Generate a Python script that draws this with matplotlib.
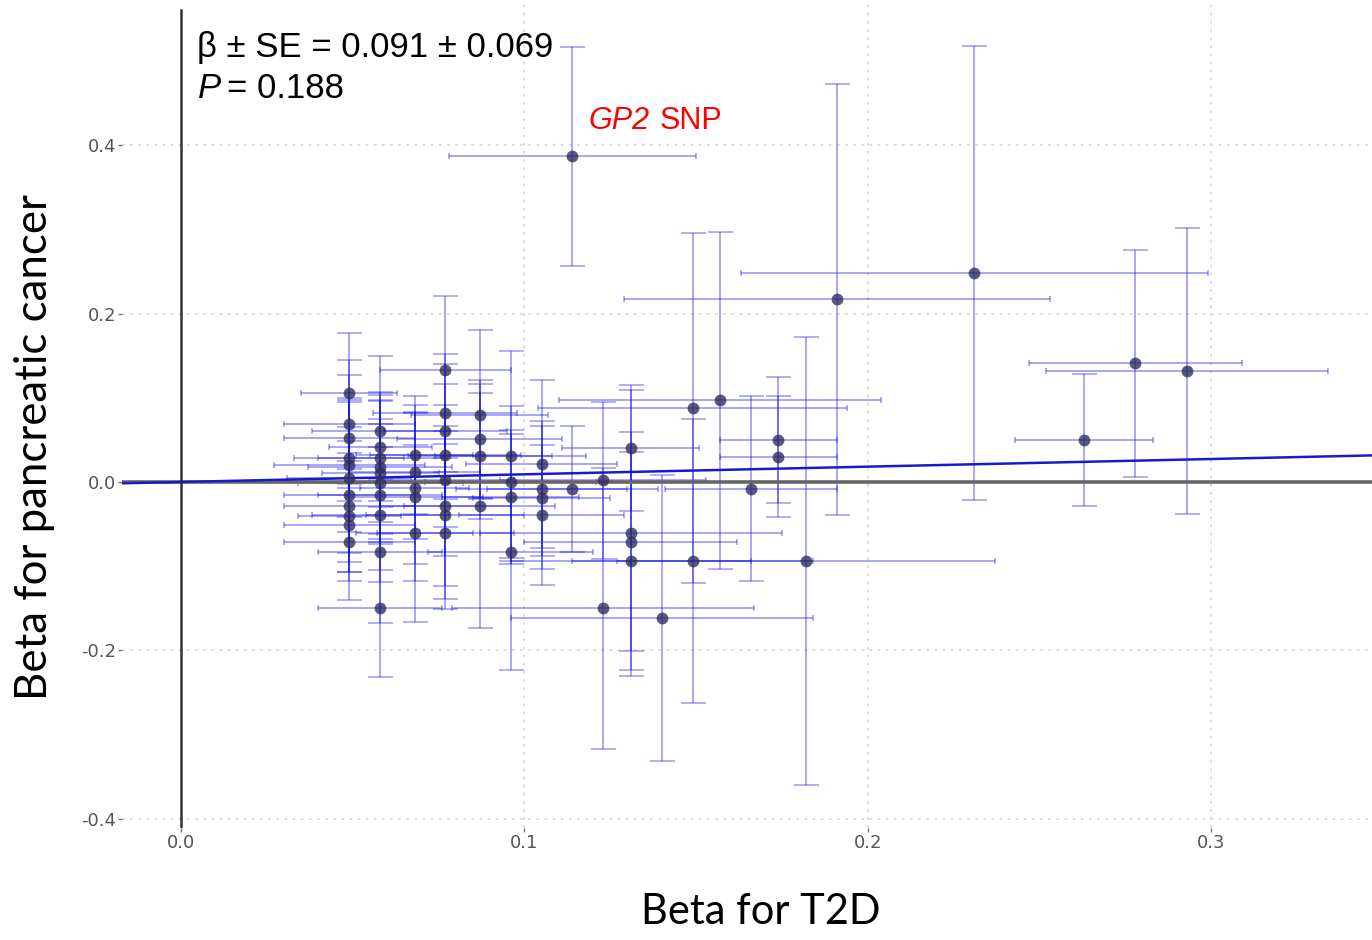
import numpy as np
import matplotlib
matplotlib.use("Agg")
import matplotlib.pyplot as plt

# per-SNP effects: T2D beta (x), pancreatic cancer beta (y), and CI half-widths
beta_t2d = [0.049] * 11 + [0.058] * 10 + [0.068] * 5 + [0.077] * 8 + [0.087] * 4 + [0.096] * 4 + [0.105] * 4 + [
    0.114, 0.114, 0.123, 0.123, 0.131, 0.131, 0.131, 0.131, 0.140, 0.149, 0.149, 0.157,
    0.166, 0.174, 0.174, 0.182, 0.191, 0.231, 0.263, 0.278, 0.293]
beta_pc = [0.106, 0.069, 0.052, 0.028, 0.020, 0.005, -0.015, -0.029, -0.041, -0.051, -0.071,
           0.060, 0.042, 0.028, 0.018, 0.011, -0.001, -0.015, -0.039, -0.083, -0.150,
           0.032, 0.012, -0.007, -0.018, -0.061,
           0.133, 0.082, 0.060, 0.032, 0.002, -0.029, -0.039, -0.061,
           0.080, 0.051, 0.031, -0.029,
           0.031, 0.000, -0.018, -0.083,
           0.021, -0.008, -0.019, -0.039,
           -0.008, 0.387, 0.002, -0.150, 0.040, -0.061, -0.071, -0.094, -0.162, 0.088, -0.094, 0.097,
           -0.008, 0.050, 0.030, -0.094, 0.217, 0.248, 0.050, 0.141, 0.132]
ci_pc = [0.071, 0.076, 0.075, 0.070, 0.080, 0.090, 0.080, 0.078, 0.066, 0.067, 0.069,
         0.090, 0.065, 0.075, 0.080, 0.085, 0.070, 0.090, 0.080, 0.085, 0.082,
         0.070, 0.080, 0.090, 0.100, 0.105,
         0.088, 0.070, 0.080, 0.085, 0.090, 0.095, 0.100, 0.090,
         0.100, 0.070, 0.075, 0.145,
         0.125, 0.090, 0.080, 0.140,
         0.100, 0.080, 0.085, 0.083,
         0.075, 0.130, 0.093, 0.167, 0.075, 0.170, 0.130, 0.130, 0.170, 0.208, 0.169, 0.200,
         0.110, 0.075, 0.072, 0.266, 0.256, 0.270, 0.078, 0.135, 0.170]
ci_t2d = [0.014, 0.019, 0.019, 0.016, 0.022, 0.018, 0.019, 0.019, 0.015, 0.019, 0.019,
          0.020, 0.015, 0.018, 0.021, 0.017, 0.024, 0.018, 0.020, 0.018, 0.018,
          0.017, 0.019, 0.016, 0.020, 0.017,
          0.019, 0.021, 0.018, 0.022, 0.020, 0.019, 0.023, 0.020,
          0.020, 0.024, 0.021, 0.022,
          0.022, 0.025, 0.020, 0.024,
          0.022, 0.025, 0.020, 0.024,
          0.025, 0.036, 0.030, 0.044, 0.020, 0.044, 0.031, 0.035, 0.044, 0.045, 0.035, 0.047,
          0.025, 0.017, 0.017, 0.055, 0.062, 0.068, 0.020, 0.031, 0.041]

slope = 0.091
slope_se = 0.069
p_value = 0.188

W, H = 1372, 940
fig = plt.figure(figsize=(W / 100, H / 100), dpi=100)
# axes placed in pixel terms so the data area lines up with the reference
ax = fig.add_axes([122 / W, 1 - 828 / H, 1250 / W, 823 / H])
ax.set_xlim(-0.0172, 0.3469)
ax.set_ylim(-0.4112, 0.5668)

for s in ax.spines.values():
    s.set_visible(False)

# dotted major grid
for gx in [0.1, 0.2, 0.3]:
    ax.axvline(gx, color="#d8d8d8", lw=1.3, ls=(0, (1.5, 3)), zorder=0)
for gy in [-0.4, -0.2, 0.2, 0.4]:
    ax.axhline(gy, color="#d8d8d8", lw=1.3, ls=(0, (1.5, 3)), zorder=0)

ax.errorbar(beta_t2d, beta_pc, yerr=ci_pc, fmt="none", ecolor="#0a0ae6",
            alpha=0.42, elinewidth=1.2, capsize=9, capthick=1.1, zorder=2)
ax.errorbar(beta_t2d, beta_pc, xerr=ci_t2d, fmt="none", ecolor="#0a0ae6",
            alpha=0.42, elinewidth=1.2, capsize=2.5, capthick=1.1, zorder=2)

ax.axhline(0, color="#666666", lw=2.6, zorder=3)
ax.axvline(0, ymax=0.994, color="#333333", lw=1.8, zorder=3)

xs = np.array([-0.0172, 0.3469])
ax.plot(xs, slope * xs, color="#1a1acc", lw=1.8, zorder=4)

ax.plot(beta_t2d, beta_pc, "o", ms=8.5, color="#2e2e60", alpha=0.8,
        markeredgewidth=0, zorder=5)

ax.set_xticks([0.0, 0.1, 0.2, 0.3])
ax.set_xticklabels(["0.0", "0.1", "0.2", "0.3"])
ax.set_yticks([-0.4, -0.2, 0.0, 0.2, 0.4])
ax.set_yticklabels(["-0.4", "-0.2", "0.0", "0.2", "0.4"])
ax.tick_params(axis="both", length=3, width=1, color="#777777",
               labelcolor="#555555", labelsize=13, pad=1)

lab_font = ["Lato", "DejaVu Sans"]
fig.text(35 / W, 1 - 447 / H, "Beta for pancreatic cancer", rotation=90,
         ha="center", va="center", fontsize=31.5, family=lab_font)
fig.text(761 / W, 1 - 912 / H, "Beta for T2D", ha="center", va="center",
         fontsize=30, family=lab_font)

txt_font = ["Liberation Sans", "DejaVu Sans"]
fig.text(197 / W, 1 - 47 / H, f"β ± SE = {slope:.3f} ± {slope_se:.3f}",
         ha="left", va="center", fontsize=25, family=txt_font)
fig.text(198 / W, 1 - 88 / H, "P", ha="left", va="center", fontsize=25,
         style="italic", family=txt_font)
fig.text(227 / W, 1 - 88 / H, f"= {p_value:.3f}", ha="left", va="center",
         fontsize=25, family=txt_font)

fig.text(589 / W, 1 - 121 / H, "GP2", ha="left", va="center", fontsize=22,
         style="italic", color="red", family=txt_font)
fig.text(660 / W, 1 - 121 / H, "SNP", ha="left", va="center", fontsize=22,
         color="red", family=txt_font)

fig.savefig("out.png", dpi=100)
